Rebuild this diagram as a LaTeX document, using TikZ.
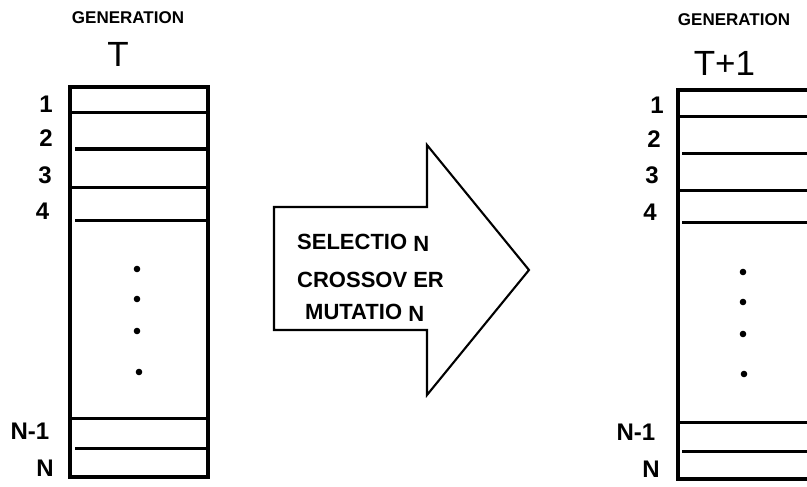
\documentclass[tikz,border=0pt]{standalone}
\usepackage{fontspec}
\setmainfont{Liberation Sans}
\begin{document}
\begin{tikzpicture}[x=1pt,y=-1pt,
  frame/.style={line width=3.2pt},
  row/.style={line width=3pt},
  dotmark/.style={fill=black,draw=none},
  rowlabel/.style={font=\fontsize{24}{24}\selectfont\bfseries,inner sep=0pt},
  genlabel/.style={font=\fontsize{17}{17}\selectfont\bfseries,inner sep=0pt},
  gentitle/.style={font=\fontsize{35}{35}\selectfont,inner sep=0pt},
  optext/.style={font=\fontsize{22}{22}\selectfont\bfseries,inner sep=0pt,anchor=west},
  bigarrow/.style={line width=2.1pt,line join=miter}]
\useasboundingbox (0,0) rectangle (807,487);
\clip (0,0) rectangle (807,487);

% ---- generation T ----
\node[genlabel] (genA) at (128,18) {GENERATION};
\node[gentitle] (tA) at (118,54) {T};
\draw[frame] (70,87) rectangle (208,477);
\draw[row] (70,113) -- (208,113);
\draw[row] (75,149) -- (208,149);
\draw[row] (70,187) -- (208,187);
\draw[row] (75,220) -- (208,220);
\draw[row] (70,418) -- (208,418);
\draw[row] (75,448) -- (208,448);
\foreach \yy/\xx in {269/137,299/137,331/137,372/139}
  \fill[dotmark] (\xx,\yy) circle (3.3);
\node[rowlabel] (a1) at (46,104) {1};
\node[rowlabel] (a2) at (46,138) {2};
\node[rowlabel] (a3) at (45,175) {3};
\node[rowlabel] (a4) at (42.5,211) {4};
\node[rowlabel] (an1) at (30,431) {N-1};
\node[rowlabel] (an) at (45,468) {N};

% ---- operators arrow ----
\draw[bigarrow] (274,207) -- (427,207) -- (427,145) -- (529,270)
  -- (427,395) -- (427,330) -- (274,330) -- cycle;
\node[optext] (sel) at (297,243) {SELECTIO \raisebox{-2pt}{N}};
\node[optext] (cro) at (297,280) {CROSSOV ER};
\node[optext] (mut) at (305,313) {MUTATIO \raisebox{-2pt}{N}};

% ---- generation T+1 ----
\node[genlabel] (genB) at (734,20) {GENERATION};
\node[gentitle] (tB) at (724.5,63) {T+1};
\draw[frame] (678,90) rectangle (816,479);
\draw[row] (678,117) -- (816,117);
\draw[row] (682,153) -- (816,153);
\draw[row] (678,190) -- (816,190);
\draw[row] (682,222) -- (816,222);
\draw[row] (678,422) -- (816,422);
\draw[row] (682,451) -- (816,451);
\foreach \yy/\xx in {272/743,302/743,334/743,374/744}
  \fill[dotmark] (\xx,\yy) circle (3.3);
\node[rowlabel] (b1) at (657,105) {1};
\node[rowlabel] (b2) at (654,139) {2};
\node[rowlabel] (b3) at (652,175) {3};
\node[rowlabel] (b4) at (650,212) {4};
\node[rowlabel] (bn1) at (636,432) {N-1};
\node[rowlabel] (bn) at (651,469) {N};
\end{tikzpicture}
\end{document}
